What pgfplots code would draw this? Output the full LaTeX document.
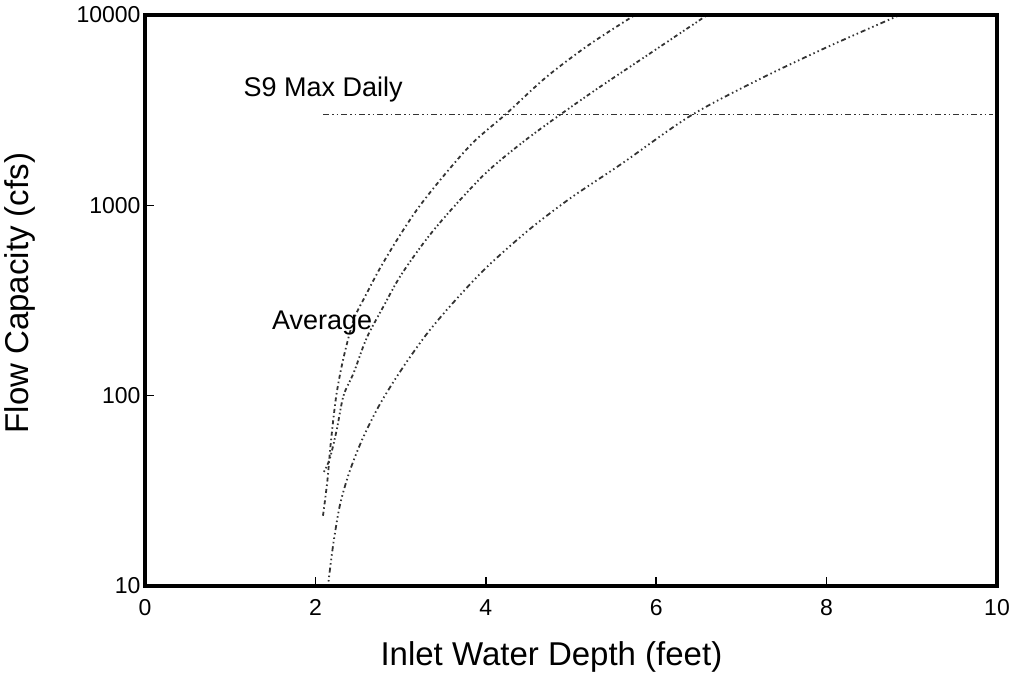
\documentclass[border=0pt]{standalone}
\usepackage{pgfplots}
\pgfplotsset{compat=1.18}
\usepackage{fontspec}
\setmainfont{Liberation Sans}
\begin{document}
\begin{tikzpicture}
\begin{axis}[
  name=ax,
  scale only axis,
  width=852pt, height=571pt,
  xmin=0, xmax=10, ymin=10, ymax=10000,
  ymode=log,
  log basis y=10,
  xtick={0,2,4,6,8,10},
  ytick={10,100,1000,10000},
  yticklabels={10,100,1000,10000},
  tick pos=left,
  tick align=inside,
  major tick length=9pt,
  minor tick length=9pt,
  every tick/.style={black, line width=1.5pt},
  /pgf/number format/assume math mode=true,
  ticklabel style={font=\fontsize{23}{27}\selectfont},
  xticklabel style={yshift=-10pt},
  yticklabel style={xshift=-1pt},
  xlabel={Inlet Water Depth (feet)},
  ylabel={Flow Capacity (cfs)},
  label style={font=\fontsize{33}{38}\selectfont},
  xlabel style={at={(axis description cs:0.477,0)}, anchor=center, yshift=-71pt},
  ylabel style={at={(axis description cs:-0.1467,0.513)}, anchor=center},
  clip=true,
]
% Curve A (leftmost)
\addplot[smooth, tension=0.5, color=black!80, line width=1.8pt, dash pattern=on 4pt off 3pt on 1.5pt off 3pt] coordinates {
(2.089,23.4) (2.14,35.5) (2.18,56.2) (2.245,100) (2.33,158) (2.45,251) (2.58,330)
(2.75,460) (2.95,650) (3.2,960) (3.5,1420) (3.85,2138) (4.23,3000) (4.7,4677)
(5.2,6918) (5.75,10000)
};
% Curve B (middle)
\addplot[smooth, tension=0.5, color=black!80, line width=1.8pt, dash pattern=on 1.5pt off 2.5pt on 1.5pt off 2.5pt on 4pt off 3pt] coordinates {
(2.10,39.8) (2.17,46.8) (2.25,66.1) (2.33,100) (2.45,132) (2.6,200) (2.8,295)
(3.0,427) (3.3,661) (3.6,955) (4.0,1479) (4.4,2089) (4.79,2818) (5.3,4074)
(5.9,6166) (6.6,10000)
};
% Curve C (rightmost)
\addplot[smooth, tension=0.5, color=black!80, line width=1.8pt, dash pattern=on 1.5pt off 3pt on 1.5pt off 3pt on 1.5pt off 3pt on 5pt off 3pt] coordinates {
(2.148,10) (2.18,13.2) (2.22,17.8) (2.29,26.9) (2.40,39.8) (2.55,58.9) (2.75,89.1)
(3.0,135) (3.3,209) (3.6,302) (4.0,468) (4.5,740) (5.0,1096) (5.6,1660)
(6.4,2951) (7.2,4571) (8.0,6761) (8.86,10000)
};
% S9 Max Daily
\addplot[color=black!80, line width=1.8pt, dash pattern=on 6pt off 3pt on 1.5pt off 3pt on 1.5pt off 3pt] coordinates {
(2.09,3000) (9.95,3000)
};
\node[font=\fontsize{27}{32}\selectfont] at (axis cs:2.09,4036) {S9 Max Daily};
\node[font=\fontsize{27}{32}\selectfont] at (axis cs:2.08,240) {Average};
\end{axis}
\draw[line width=3.5pt] (ax.south west) rectangle (ax.north east);
\pgfresetboundingbox
\path[use as bounding box] (-145pt,-91pt) rectangle (871pt,586pt);
\end{tikzpicture}
\end{document}
